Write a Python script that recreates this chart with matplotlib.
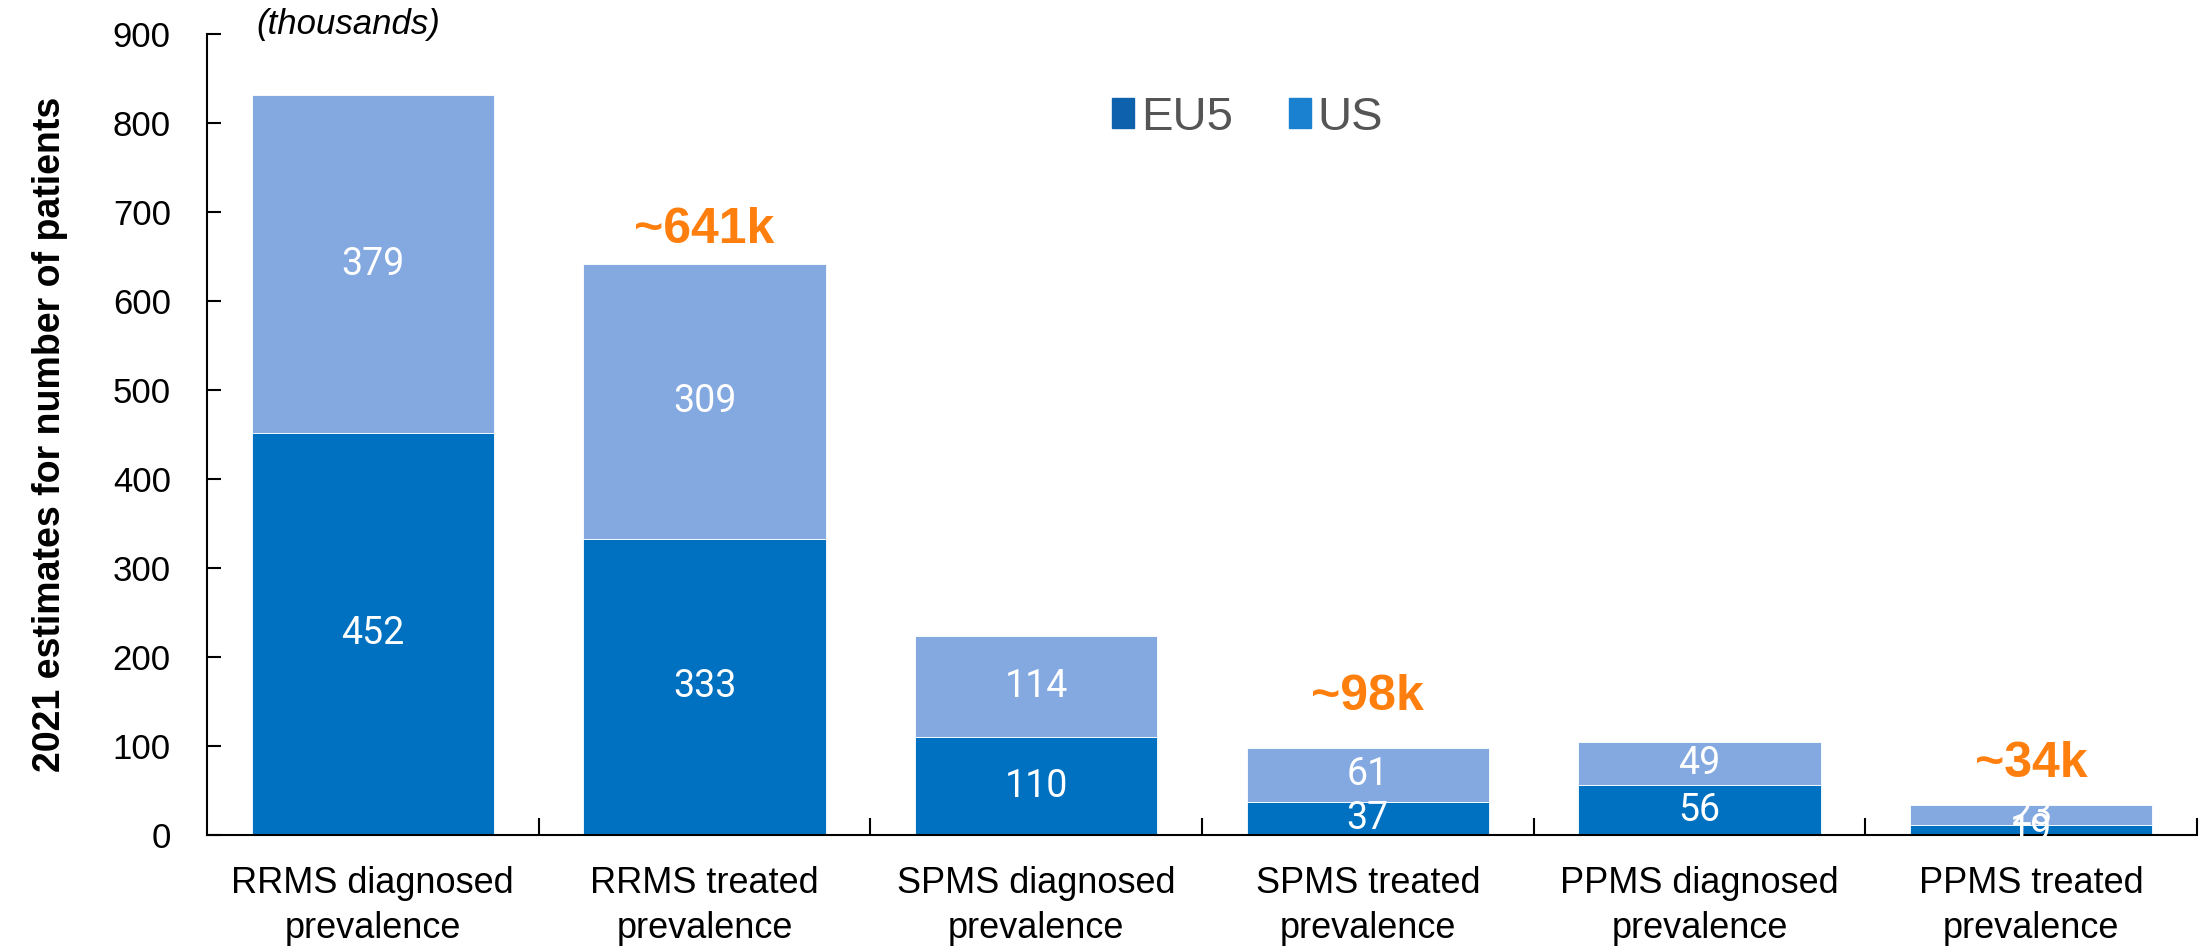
import matplotlib
matplotlib.use("Agg")
import matplotlib.pyplot as plt
from matplotlib import font_manager
from matplotlib.patches import Patch
import numpy as np

categories = ["RRMS diagnosed\nprevalence", "RRMS treated\nprevalence",
              "SPMS diagnosed\nprevalence", "SPMS treated\nprevalence",
              "PPMS diagnosed\nprevalence", "PPMS treated\nprevalence"]
eu5 = [452, 333, 110, 37, 56, 11]
us = [379, 309, 114, 61, 49, 23]
eu5_labels = ["452", "333", "110", "37", "56", "19"]
us_labels = ["379", "309", "114", "61", "49", "23"]
callouts = {1: "~641k", 3: "~98k", 5: "~34k"}
y_ticks = [0, 100, 200, 300, 400, 500, 600, 700, 800, 900]

dark = "#0070C0"
light = "#84A9E1"
orange = "#FF7F0E"

names = {f.name for f in font_manager.fontManager.ttflist}
narrow = "Liberation Sans Narrow" if "Liberation Sans Narrow" in names else "Liberation Sans"

fig = plt.figure(figsize=(22.04, 9.48), dpi=100)
ax = fig.add_axes([0.0939, 0.1192, 0.9029, 0.8449])

x = np.arange(len(categories))
ax.bar(x, eu5, width=0.73, color=dark, edgecolor="white", linewidth=0.6)
ax.bar(x, us, width=0.73, bottom=eu5, color=light, edgecolor="white", linewidth=0.6)

for i in range(len(categories)):
    ax.text(x[i], eu5[i] / 2, eu5_labels[i], ha="center", va="center",
            color="white", fontsize=27, family="Roboto")
    ax.text(x[i], eu5[i] + us[i] / 2, us_labels[i], ha="center", va="center",
            color="white", fontsize=27, family="Roboto")

# gap between bar top and the orange callout (pixels)
gaps = {1: 11, 3: 28, 5: 18}
for i, txt in callouts.items():
    ax.annotate(txt, (x[i], eu5[i] + us[i]), xytext=(0, gaps[i]),
                textcoords="offset pixels", ha="center", va="bottom",
                color=orange, fontsize=36, fontweight="bold", family=narrow)

ax.set_xlim(-0.5, 5.5)
ax.set_ylim(0, 900)
ax.set_yticks(y_ticks)
ax.set_yticklabels([str(v) for v in y_ticks], family=narrow, fontsize=25)
ax.tick_params(axis="y", direction="in", length=10, width=1.5, pad=26)

ax.set_xticks(x + 0.5)
ax.set_xticklabels([])
ax.set_xticks(x, minor=True)
ax.set_xticklabels(categories, minor=True, family=narrow, fontsize=26,
                   linespacing=1.4)
ax.tick_params(axis="x", which="major", direction="in", length=12, width=1.5)
ax.tick_params(axis="x", which="minor", length=0, pad=22)

for s in ["top", "right"]:
    ax.spines[s].set_visible(False)
for s in ["left", "bottom"]:
    ax.spines[s].set_linewidth(1.5)

ax.set_ylabel("2021 estimates for number of patients", fontsize=27,
              fontweight="bold", family="Liberation Sans", labelpad=32)
ax.text(0.025, 1.012, "(thousands)", transform=ax.transAxes, ha="left", va="center",
        fontsize=25, style="italic", family=narrow)

handles = [Patch(color="#0E62AD", label="EU5"), Patch(color="#1A80D0", label="US")]
leg = ax.legend(handles=handles, loc="center", bbox_to_anchor=(0.523, 0.895),
                ncol=2, frameon=False, prop={"family": narrow, "size": 34},
                handlelength=0.45, handleheight=0.6, handletextpad=0.15,
                columnspacing=1.2)
for t in leg.get_texts():
    t.set_color("#555555")

fig.savefig("out.png", dpi=100)
